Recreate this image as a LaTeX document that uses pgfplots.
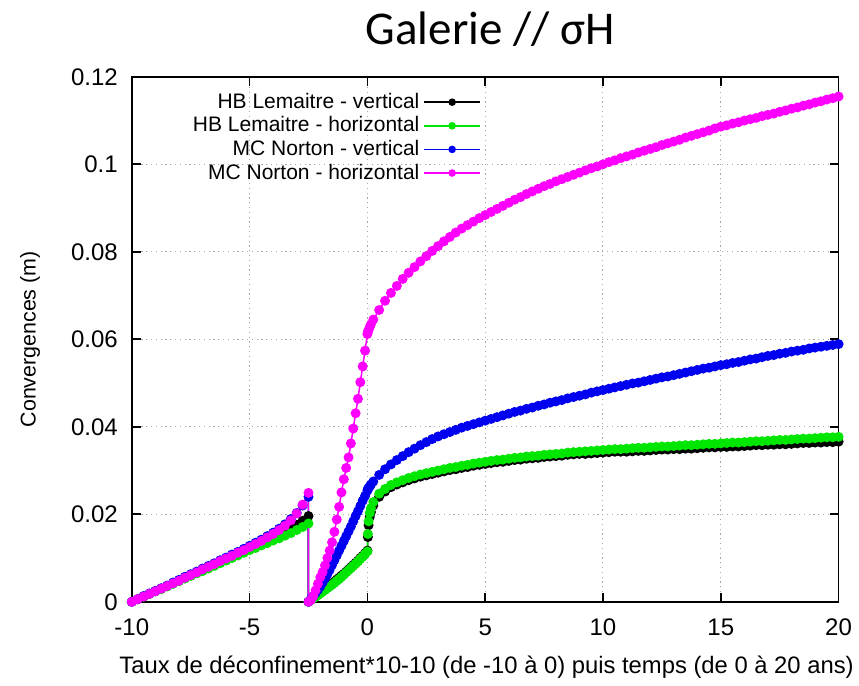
\documentclass[border=0pt]{standalone}
\usepackage{fontspec}
\setmainfont{Liberation Sans}
\newfontfamily\titlefont{Carlito}
\usepackage{pgfplots}
\usepackage{pgfplotstable}
\pgfplotsset{compat=1.18}

\definecolor{hbv}{RGB}{0,0,0}
\definecolor{hbh}{RGB}{0,230,0}
\definecolor{mcv}{RGB}{0,0,240}
\definecolor{mch}{RGB}{255,0,255}

% convergences (m): deconfinement phase (x from -10 to 0), then time in years (0 to 20)
\pgfplotstableread{
x hbv hbh mcv mch
-10.00 0 0 0 0
-9.75 0.0006 0.0006 0.0006 0.0006
-9.50 0.0012 0.0012 0.0013 0.0012
-9.25 0.0018 0.0018 0.0019 0.0018
-9.00 0.0024 0.0024 0.0025 0.0024
-8.75 0.0030 0.0029 0.0031 0.0030
-8.50 0.0036 0.0035 0.0037 0.0036
-8.25 0.0042 0.0041 0.0044 0.0042
-8.00 0.0048 0.0047 0.0050 0.0048
-7.75 0.0054 0.0053 0.0057 0.0055
-7.50 0.0060 0.0059 0.0063 0.0061
-7.25 0.0066 0.0065 0.0069 0.0067
-7.00 0.0072 0.0070 0.0076 0.0074
-6.75 0.0078 0.0076 0.0082 0.0080
-6.50 0.0084 0.0082 0.0088 0.0086
-6.25 0.0090 0.0088 0.0095 0.0093
-6.00 0.0096 0.0094 0.0101 0.0099
-5.75 0.0102 0.0100 0.0108 0.0105
-5.50 0.0108 0.0106 0.0114 0.0112
-5.25 0.0114 0.0112 0.0121 0.0118
-5.00 0.0121 0.0118 0.0128 0.0125
-4.75 0.0127 0.0123 0.0135 0.0132
-4.50 0.0133 0.0129 0.0142 0.0139
-4.25 0.0139 0.0134 0.0150 0.0147
-4.00 0.0145 0.0140 0.0158 0.0155
-3.75 0.0152 0.0145 0.0167 0.0164
-3.50 0.0159 0.0151 0.0177 0.0174
-3.25 0.0167 0.0157 0.0189 0.0186
-3.00 0.0176 0.0164 0.0203 0.0202
-2.75 0.0185 0.0171 0.0220 0.0222
-2.50 0.0196 0.0179 0.0240 0.0249
-2.50 0 0 0 0
-2.40 0.0005 0.0004 0.0006 0.0004
-2.30 0.0010 0.0008 0.0013 0.0013
-2.20 0.0014 0.0011 0.0020 0.0026
-2.10 0.0018 0.0015 0.0027 0.0041
-2.00 0.0022 0.0019 0.0035 0.0056
-1.90 0.0026 0.0023 0.0044 0.0068
-1.80 0.0030 0.0027 0.0053 0.0083
-1.70 0.0034 0.0031 0.0063 0.0100
-1.60 0.0038 0.0035 0.0073 0.0117
-1.50 0.0042 0.0039 0.0084 0.0136
-1.40 0.0046 0.0043 0.0095 0.0160
-1.30 0.0051 0.0048 0.0106 0.0188
-1.20 0.0055 0.0052 0.0117 0.0217
-1.10 0.0060 0.0057 0.0128 0.0250
-1.00 0.0064 0.0062 0.0139 0.0280
-0.90 0.0069 0.0067 0.0150 0.0306
-0.80 0.0074 0.0072 0.0161 0.0330
-0.70 0.0079 0.0077 0.0172 0.0362
-0.60 0.0084 0.0082 0.0184 0.0396
-0.50 0.0089 0.0087 0.0196 0.0431
-0.40 0.0094 0.0092 0.0207 0.0464
-0.30 0.0100 0.0098 0.0219 0.0502
-0.20 0.0105 0.0103 0.0231 0.0538
-0.10 0.0111 0.0109 0.0242 0.0574
0.00 0.0117 0.0115 0.0254 0.0612
0.02 0.0148 0.0155 0.0258 0.0617
0.05 0.0175 0.0184 0.0260 0.0621
0.10 0.0194 0.0203 0.0264 0.0628
0.15 0.0205 0.0214 0.0268 0.0634
0.25 0.0220 0.0228 0.0275 0.0645
0.50 0.0240 0.0247 0.0290 0.0667
0.75 0.0252 0.0258 0.0303 0.0688
1.00 0.0262 0.0267 0.0314 0.0706
1.25 0.0268 0.0273 0.0324 0.0722
1.50 0.0273 0.0278 0.0333 0.0738
1.75 0.0278 0.0283 0.0342 0.0752
2.00 0.0282 0.0287 0.0350 0.0765
2.25 0.0286 0.0291 0.0358 0.0778
2.50 0.0289 0.0294 0.0365 0.0790
2.75 0.0292 0.0297 0.0372 0.0802
3.00 0.0295 0.0300 0.0378 0.0813
3.25 0.0298 0.0303 0.0383 0.0824
3.50 0.0301 0.0306 0.0388 0.0834
3.75 0.0303 0.0308 0.0393 0.0844
4.00 0.0306 0.0311 0.0398 0.0853
4.25 0.0308 0.0313 0.0402 0.0861
4.50 0.0311 0.0316 0.0406 0.0869
4.75 0.0313 0.0318 0.0410 0.0877
5.00 0.0315 0.0320 0.0414 0.0884
5.25 0.0317 0.0322 0.0418 0.0891
5.50 0.0319 0.0324 0.0422 0.0898
5.75 0.0320 0.0325 0.0426 0.0905
6.00 0.0322 0.0327 0.0430 0.0912
6.25 0.0324 0.0329 0.0434 0.0919
6.50 0.0325 0.0330 0.0437 0.0925
6.75 0.0327 0.0332 0.0441 0.0932
7.00 0.0328 0.0333 0.0444 0.0938
7.25 0.0329 0.0334 0.0448 0.0944
7.50 0.0331 0.0336 0.0451 0.0950
7.75 0.0332 0.0337 0.0455 0.0955
8.00 0.0333 0.0338 0.0458 0.0961
8.25 0.0334 0.0339 0.0461 0.0966
8.50 0.0336 0.0341 0.0465 0.0971
8.75 0.0337 0.0342 0.0468 0.0976
9.00 0.0338 0.0343 0.0471 0.0981
9.25 0.0338 0.0344 0.0474 0.0986
9.50 0.0339 0.0345 0.0478 0.0991
9.75 0.0340 0.0346 0.0481 0.0995
10.00 0.0341 0.0347 0.0484 0.1000
10.25 0.0342 0.0348 0.0487 0.1005
10.50 0.0343 0.0349 0.0490 0.1009
10.75 0.0343 0.0349 0.0493 0.1014
11.00 0.0343 0.0350 0.0496 0.1018
11.25 0.0344 0.0351 0.0499 0.1022
11.50 0.0345 0.0352 0.0501 0.1027
11.75 0.0345 0.0352 0.0504 0.1031
12.00 0.0346 0.0353 0.0507 0.1035
12.25 0.0347 0.0354 0.0510 0.1039
12.50 0.0348 0.0355 0.0513 0.1044
12.75 0.0348 0.0355 0.0515 0.1048
13.00 0.0349 0.0356 0.0518 0.1052
13.25 0.0349 0.0357 0.0521 0.1056
13.50 0.0350 0.0358 0.0524 0.1061
13.75 0.0350 0.0358 0.0527 0.1065
14.00 0.0351 0.0359 0.0530 0.1069
14.25 0.0352 0.0360 0.0533 0.1073
14.50 0.0353 0.0361 0.0535 0.1077
14.75 0.0353 0.0361 0.0538 0.1082
15.00 0.0354 0.0362 0.0541 0.1086
15.25 0.0354 0.0363 0.0543 0.1089
15.50 0.0355 0.0364 0.0546 0.1093
15.75 0.0355 0.0364 0.0548 0.1096
16.00 0.0356 0.0365 0.0551 0.1100
16.25 0.0357 0.0366 0.0554 0.1103
16.50 0.0358 0.0367 0.0556 0.1106
16.75 0.0358 0.0367 0.0559 0.1110
17.00 0.0359 0.0368 0.0562 0.1113
17.25 0.0359 0.0369 0.0564 0.1116
17.50 0.0360 0.0370 0.0567 0.1120
17.75 0.0360 0.0370 0.0569 0.1123
18.00 0.0361 0.0371 0.0572 0.1127
18.25 0.0362 0.0372 0.0574 0.1130
18.50 0.0363 0.0373 0.0576 0.1134
18.75 0.0363 0.0373 0.0579 0.1137
19.00 0.0364 0.0374 0.0581 0.1141
19.25 0.0364 0.0375 0.0583 0.1144
19.50 0.0365 0.0376 0.0585 0.1148
19.75 0.0365 0.0376 0.0587 0.1151
20.00 0.0366 0.0377 0.0589 0.1155
}\convdata

\begin{document}
\begin{tikzpicture}
\path[use as bounding box] (-65.9pt,-42.1pt) rectangle (363.6pt,300.9pt);
\begin{axis}[
  at={(0pt,0pt)}, anchor=south west,
  scale only axis,
  width=353.4pt, height=262.5pt,
  xmin=-10, xmax=20, ymin=0, ymax=0.12,
  clip=false,
  xtick={-10,-5,0,5,10,15,20},
  xticklabels={-10,-5,0,5,10,15,20},
  ytick={0,0.02,0.04,0.06,0.08,0.1,0.12},
  yticklabels={0,0.02,0.04,0.06,0.08,0.1,0.12},
  tick align=inside,
  major tick length=4.5pt,
  every tick/.style={black, line width=0.8pt},
  axis line style={line width=0.9pt},
  grid=major,
  grid style={gray!70, line width=0.5pt, dash pattern=on 0.6pt off 1.8pt},
  tick label style={font=\fontsize{12}{14}\selectfont},
  xticklabel style={yshift=-5pt},
  yticklabel style={xshift=-3.5pt},
  xlabel={Taux de déconfinement*10-10 (de -10 à 0) puis temps (de 0 à 20 ans)},
  xlabel style={font=\fontsize{11.9}{14}\selectfont, at={(axis description cs:0.502,-0.124)}, anchor=center},
  ylabel={Convergences (m)},
  ylabel style={font=\fontsize{10.7}{12}\selectfont, at={(axis description cs:-0.144,0.5)}, anchor=center},
  title={Galerie // σH},
  title style={font=\titlefont\fontsize{23.5}{28}\selectfont, at={(axis description cs:0.507,1)}, anchor=base, yshift=10pt},
  legend style={draw=none, fill=none, at={(0.503,0.985)}, anchor=north east,
    font=\fontsize{10.5}{12}\selectfont, row sep=-1.3pt},
  legend cell align=right,
  legend plot pos=right,
  legend image code/.code={\draw[mark repeat=2,mark phase=2,mark size=1.5pt,#1] plot coordinates {(0pt,0pt) (14pt,0pt) (28pt,0pt)};},
  every axis plot/.append style={line width=0.75pt, mark=*, mark size=2.1pt, mark options={solid}},
]
\addplot[hbv] table[x=x, y=hbv] {\convdata};
\addlegendentry{HB Lemaitre - vertical}
\addplot[hbh] table[x=x, y=hbh] {\convdata};
\addlegendentry{HB Lemaitre - horizontal}
\addplot[mcv] table[x=x, y=mcv] {\convdata};
\addlegendentry{MC Norton - vertical}
\addplot[mch] table[x=x, y=mch] {\convdata};
\addlegendentry{MC Norton - horizontal}
\end{axis}
\end{tikzpicture}
\end{document}
